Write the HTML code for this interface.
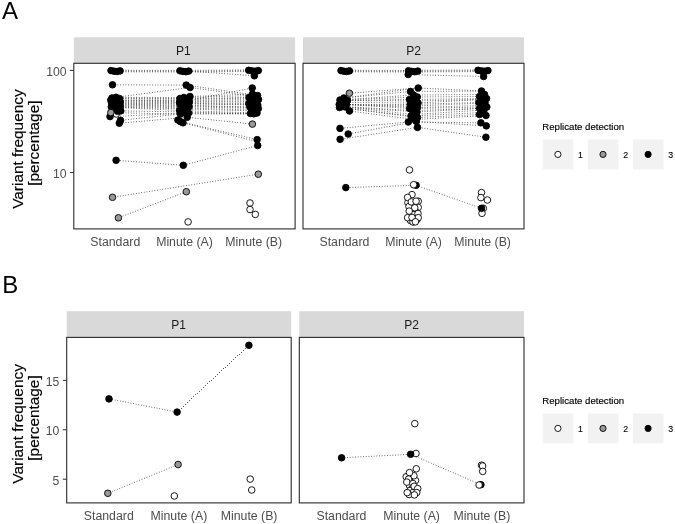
<!DOCTYPE html>
<html><head><meta charset="utf-8"><title>Figure</title>
<style>html,body{margin:0;padding:0;background:#fff}svg{display:block;will-change:transform}</style></head>
<body>
<svg width="675" height="524" viewBox="0 0 675 524" font-family='"Liberation Sans", sans-serif'>
<style>.dl{stroke:#2a2a2a;stroke-width:.8;stroke-dasharray:.85 1.82;fill:none}</style>
<rect width="675" height="524" fill="#fff"/>
<text x="2.0" y="18.9" font-size="24.0" text-anchor="start" fill="#000" >A</text>
<text x="2.2" y="293.4" font-size="24.0" text-anchor="start" fill="#000" >B</text>
<rect x="73.8" y="37.3" width="221.3" height="26.0" fill="#d9d9d9"/>
<text x="183.4" y="55.2" font-size="12" text-anchor="middle" fill="#1a1a1a" >P1</text>
<text x="115.3" y="246.3" font-size="12.3" text-anchor="middle" fill="#4d4d4d" >Standard</text>
<text x="184.5" y="246.3" font-size="12.3" text-anchor="middle" fill="#4d4d4d" >Minute (A)</text>
<text x="253.7" y="246.3" font-size="12.3" text-anchor="middle" fill="#4d4d4d" >Minute (B)</text>
<rect x="303.0" y="37.3" width="221.0" height="26.0" fill="#d9d9d9"/>
<text x="413.6" y="55.2" font-size="12" text-anchor="middle" fill="#1a1a1a" >P2</text>
<text x="344.4" y="246.3" font-size="12.3" text-anchor="middle" fill="#4d4d4d" >Standard</text>
<text x="413.5" y="246.3" font-size="12.3" text-anchor="middle" fill="#4d4d4d" >Minute (A)</text>
<text x="482.6" y="246.3" font-size="12.3" text-anchor="middle" fill="#4d4d4d" >Minute (B)</text>
<path d="M69.9 70.4H73.8" stroke="#333" stroke-width="1.05" fill="none"/>
<text x="66.5" y="75.9" font-size="12.2" text-anchor="end" fill="#4d4d4d" >100</text>
<path d="M69.9 172.5H73.8" stroke="#333" stroke-width="1.05" fill="none"/>
<text x="66.5" y="177.9" font-size="12.2" text-anchor="end" fill="#4d4d4d" >10</text>
<rect x="66.7" y="311.2" width="224.5" height="26.2" fill="#d9d9d9"/>
<text x="178.6" y="329.2" font-size="12" text-anchor="middle" fill="#1a1a1a" >P1</text>
<text x="108.8" y="520.0" font-size="12.3" text-anchor="middle" fill="#4d4d4d" >Standard</text>
<text x="178.9" y="520.0" font-size="12.3" text-anchor="middle" fill="#4d4d4d" >Minute (A)</text>
<text x="249.1" y="520.0" font-size="12.3" text-anchor="middle" fill="#4d4d4d" >Minute (B)</text>
<rect x="299.3" y="311.2" width="224.7" height="26.2" fill="#d9d9d9"/>
<text x="411.6" y="329.2" font-size="12" text-anchor="middle" fill="#1a1a1a" >P2</text>
<text x="341.4" y="520.0" font-size="12.3" text-anchor="middle" fill="#4d4d4d" >Standard</text>
<text x="411.6" y="520.0" font-size="12.3" text-anchor="middle" fill="#4d4d4d" >Minute (A)</text>
<text x="481.9" y="520.0" font-size="12.3" text-anchor="middle" fill="#4d4d4d" >Minute (B)</text>
<path d="M62.8 380.4H66.7" stroke="#333" stroke-width="1.05" fill="none"/>
<text x="59.4" y="385.8" font-size="12.2" text-anchor="end" fill="#4d4d4d" >15</text>
<path d="M62.8 429.7H66.7" stroke="#333" stroke-width="1.05" fill="none"/>
<text x="59.4" y="435.1" font-size="12.2" text-anchor="end" fill="#4d4d4d" >10</text>
<path d="M62.8 479.2H66.7" stroke="#333" stroke-width="1.05" fill="none"/>
<text x="59.4" y="484.6" font-size="12.2" text-anchor="end" fill="#4d4d4d" >5</text>
<text transform="translate(22.5 149.1) rotate(-90)" font-size="15.4" text-anchor="middle" fill="#000" stroke="#000" stroke-width=".16">Variant frequency</text>
<text transform="translate(39.1 143.2) rotate(-90)" font-size="15.35" text-anchor="middle" fill="#000" stroke="#000" stroke-width=".16">[percentage]</text>
<text transform="translate(22.5 423.9) rotate(-90)" font-size="15.4" text-anchor="middle" fill="#000" stroke="#000" stroke-width=".16">Variant frequency</text>
<text transform="translate(39.1 418.0) rotate(-90)" font-size="15.35" text-anchor="middle" fill="#000" stroke="#000" stroke-width=".16">[percentage]</text>
<text x="542.3" y="129.9" font-size="9.65" text-anchor="start" fill="#000" stroke="#000" stroke-width=".15">Replicate detection</text>
<rect x="542.7" y="139.5" width="30.6" height="29.9" fill="#f2f2f2"/>
<circle cx="557.9" cy="154.4" r="3.1" fill="#ffffff" stroke="#000" stroke-width="0.9"/>
<text x="578.1" y="158.2" font-size="8.8" text-anchor="start" fill="#000" stroke="#000" stroke-width=".12">1</text>
<rect x="587.8" y="139.5" width="30.6" height="29.9" fill="#f2f2f2"/>
<circle cx="603.0" cy="154.4" r="3.1" fill="#999999" stroke="#000" stroke-width="0.9"/>
<text x="623.2" y="158.2" font-size="8.8" text-anchor="start" fill="#000" stroke="#000" stroke-width=".12">2</text>
<rect x="632.9" y="139.5" width="30.6" height="29.9" fill="#f2f2f2"/>
<circle cx="648.1" cy="154.4" r="3.1" fill="#000000" stroke="#000" stroke-width="0.9"/>
<text x="668.3" y="158.2" font-size="8.8" text-anchor="start" fill="#000" stroke="#000" stroke-width=".12">3</text>
<text x="542.3" y="403.9" font-size="9.65" text-anchor="start" fill="#000" stroke="#000" stroke-width=".15">Replicate detection</text>
<rect x="542.7" y="413.5" width="30.6" height="29.9" fill="#f2f2f2"/>
<circle cx="557.9" cy="428.4" r="3.1" fill="#ffffff" stroke="#000" stroke-width="0.9"/>
<text x="578.1" y="432.2" font-size="8.8" text-anchor="start" fill="#000" stroke="#000" stroke-width=".12">1</text>
<rect x="587.8" y="413.5" width="30.6" height="29.9" fill="#f2f2f2"/>
<circle cx="603.0" cy="428.4" r="3.1" fill="#999999" stroke="#000" stroke-width="0.9"/>
<text x="623.2" y="432.2" font-size="8.8" text-anchor="start" fill="#000" stroke="#000" stroke-width=".12">2</text>
<rect x="632.9" y="413.5" width="30.6" height="29.9" fill="#f2f2f2"/>
<circle cx="648.1" cy="428.4" r="3.1" fill="#000000" stroke="#000" stroke-width="0.9"/>
<text x="668.3" y="432.2" font-size="8.8" text-anchor="start" fill="#000" stroke="#000" stroke-width=".12">3</text>
<path class="dl" stroke-dashoffset="1.53" d="M111.0 70.2L180.0 70.4"/>
<path class="dl" stroke-dashoffset="1.11" d="M180.0 70.4L248.7 69.9"/>
<path class="dl" stroke-dashoffset="1.86" d="M114.0 71.0L182.9 71.2"/>
<path class="dl" stroke-dashoffset="1.34" d="M182.9 71.2L251.9 70.7"/>
<path class="dl" stroke-dashoffset="2.19" d="M117.0 71.8L185.8 72.0"/>
<path class="dl" stroke-dashoffset="1.57" d="M185.8 72.0L255.1 71.5"/>
<path class="dl" stroke-dashoffset="1.80" d="M188.7 71.1L254.4 75.8"/>
<path class="dl" stroke-dashoffset="0.36" d="M112.5 84.8L186.2 85.1"/>
<path class="dl" stroke-dashoffset="1.96" d="M186.2 85.1L248.0 94.0"/>
<path class="dl" stroke-dashoffset="1.18" d="M116.0 97.3L190.1 87.5"/>
<path class="dl" stroke-dashoffset="0.51" d="M190.1 87.5L252.5 96.0"/>
<path class="dl" stroke-dashoffset="1.75" d="M186.0 101.0L252.2 88.0"/>
<path class="dl" stroke-dashoffset="1.19" d="M116.0 97.3L184.0 97.5"/>
<path class="dl" stroke-dashoffset="2.53" d="M112.0 98.0L180.0 98.5"/>
<path class="dl" stroke-dashoffset="2.02" d="M119.5 98.6L187.5 99.3"/>
<path class="dl" stroke-dashoffset="1.33" d="M110.8 100.0L182.0 100.3"/>
<path class="dl" stroke-dashoffset="2.36" d="M114.5 100.2L186.0 101.0"/>
<path class="dl" stroke-dashoffset="0.52" d="M118.0 101.0L189.3 101.8"/>
<path class="dl" stroke-dashoffset="0.05" d="M120.2 102.0L179.5 102.5"/>
<path class="dl" stroke-dashoffset="2.03" d="M111.5 102.8L183.5 103.3"/>
<path class="dl" stroke-dashoffset="0.69" d="M115.5 103.5L188.0 104.0"/>
<path class="dl" stroke-dashoffset="2.02" d="M119.5 104.3L180.5 105.0"/>
<path class="dl" stroke-dashoffset="0.86" d="M113.0 105.0L185.0 105.8"/>
<path class="dl" stroke-dashoffset="2.19" d="M117.0 105.8L189.0 106.8"/>
<path class="dl" stroke-dashoffset="0.15" d="M120.3 106.6L181.5 107.8"/>
<path class="dl" stroke-dashoffset="1.83" d="M111.3 107.0L186.5 109.0"/>
<path class="dl" stroke-dashoffset="0.19" d="M115.0 107.3L179.6 110.5"/>
<path class="dl" stroke-dashoffset="0.65" d="M120.8 110.9L184.0 112.0"/>
<path class="dl" stroke-dashoffset="0.53" d="M110.0 116.6L188.6 113.0"/>
<path class="dl" stroke-dashoffset="0.34" d="M120.5 120.3L180.5 114.0"/>
<path class="dl" stroke-dashoffset="1.82" d="M119.3 123.2L187.2 117.3"/>
<path class="dl" stroke-dashoffset="1.33" d="M110.8 112.6L180.5 114.0"/>
<path class="dl" stroke-dashoffset="0.43" d="M190.0 96.5L252.5 94.0"/>
<path class="dl" stroke-dashoffset="2.44" d="M184.0 97.5L257.5 95.5"/>
<path class="dl" stroke-dashoffset="1.11" d="M180.0 98.5L249.0 97.5"/>
<path class="dl" stroke-dashoffset="0.60" d="M187.5 99.3L254.5 98.0"/>
<path class="dl" stroke-dashoffset="0.44" d="M182.0 100.3L258.5 99.5"/>
<path class="dl" stroke-dashoffset="1.77" d="M186.0 101.0L251.0 101.0"/>
<path class="dl" stroke-dashoffset="2.40" d="M189.3 101.8L255.5 102.0"/>
<path class="dl" stroke-dashoffset="0.61" d="M179.5 102.5L248.8 103.5"/>
<path class="dl" stroke-dashoffset="1.94" d="M183.5 103.3L253.0 104.5"/>
<path class="dl" stroke-dashoffset="1.10" d="M188.0 104.0L257.8 105.0"/>
<path class="dl" stroke-dashoffset="1.61" d="M180.5 105.0L250.0 107.0"/>
<path class="dl" stroke-dashoffset="0.77" d="M185.0 105.8L255.0 107.5"/>
<path class="dl" stroke-dashoffset="2.10" d="M189.0 106.8L258.3 108.5"/>
<path class="dl" stroke-dashoffset="2.61" d="M181.5 107.8L251.5 110.0"/>
<path class="dl" stroke-dashoffset="2.27" d="M186.5 109.0L256.0 111.0"/>
<path class="dl" stroke-dashoffset="0.71" d="M179.6 110.5L257.0 113.0"/>
<path class="dl" stroke-dashoffset="2.44" d="M184.0 112.0L250.5 113.5"/>
<path class="dl" stroke-dashoffset="1.70" d="M188.6 113.0L254.0 113.8"/>
<path class="dl" stroke-dashoffset="1.61" d="M180.5 114.0L254.0 113.8"/>
<path class="dl" stroke-dashoffset="0.29" d="M187.2 117.3L252.4 124.1"/>
<path class="dl" stroke-dashoffset="1.38" d="M180.3 121.6L257.1 139.6"/>
<path class="dl" stroke-dashoffset="1.40" d="M183.0 122.8L256.0 141.5"/>
<path class="dl" stroke-dashoffset="1.29" d="M116.1 160.3L183.3 165.3"/>
<path class="dl" stroke-dashoffset="1.71" d="M183.3 165.3L257.7 145.5"/>
<path class="dl" stroke-dashoffset="0.33" d="M112.5 197.3L258.3 174.2"/>
<path class="dl" stroke-dashoffset="0.80" d="M118.4 217.8L186.3 191.7"/>
<circle cx="111.0" cy="70.6" r="3.3" fill="#000000" stroke="#000" stroke-width="0.9"/>
<circle cx="114.0" cy="71.2" r="3.3" fill="#000000" stroke="#000" stroke-width="0.9"/>
<circle cx="117.0" cy="71.5" r="3.3" fill="#000000" stroke="#000" stroke-width="0.9"/>
<circle cx="120.0" cy="70.9" r="3.3" fill="#000000" stroke="#000" stroke-width="0.9"/>
<circle cx="180.0" cy="70.8" r="3.3" fill="#000000" stroke="#000" stroke-width="0.9"/>
<circle cx="182.9" cy="71.4" r="3.3" fill="#000000" stroke="#000" stroke-width="0.9"/>
<circle cx="185.8" cy="71.7" r="3.3" fill="#000000" stroke="#000" stroke-width="0.9"/>
<circle cx="188.7" cy="71.1" r="3.3" fill="#000000" stroke="#000" stroke-width="0.9"/>
<circle cx="248.7" cy="70.3" r="3.3" fill="#000000" stroke="#000" stroke-width="0.9"/>
<circle cx="251.9" cy="70.9" r="3.3" fill="#000000" stroke="#000" stroke-width="0.9"/>
<circle cx="255.1" cy="71.2" r="3.3" fill="#000000" stroke="#000" stroke-width="0.9"/>
<circle cx="258.3" cy="70.6" r="3.3" fill="#000000" stroke="#000" stroke-width="0.9"/>
<circle cx="254.4" cy="75.8" r="3.3" fill="#000000" stroke="#000" stroke-width="0.9"/>
<circle cx="112.5" cy="84.8" r="3.3" fill="#000000" stroke="#000" stroke-width="0.9"/>
<circle cx="186.2" cy="85.1" r="3.3" fill="#000000" stroke="#000" stroke-width="0.9"/>
<circle cx="190.1" cy="87.5" r="3.3" fill="#000000" stroke="#000" stroke-width="0.9"/>
<circle cx="252.2" cy="88.0" r="3.3" fill="#000000" stroke="#000" stroke-width="0.9"/>
<circle cx="116.3" cy="114.0" r="3.3" fill="#ffffff" stroke="#000" stroke-width="0.9"/>
<circle cx="112.0" cy="98.0" r="3.3" fill="#000000" stroke="#000" stroke-width="0.9"/>
<circle cx="116.0" cy="97.3" r="3.3" fill="#000000" stroke="#000" stroke-width="0.9"/>
<circle cx="119.5" cy="98.6" r="3.3" fill="#000000" stroke="#000" stroke-width="0.9"/>
<circle cx="110.8" cy="100.0" r="3.3" fill="#000000" stroke="#000" stroke-width="0.9"/>
<circle cx="114.5" cy="100.2" r="3.3" fill="#000000" stroke="#000" stroke-width="0.9"/>
<circle cx="118.0" cy="101.0" r="3.3" fill="#000000" stroke="#000" stroke-width="0.9"/>
<circle cx="120.2" cy="102.0" r="3.3" fill="#000000" stroke="#000" stroke-width="0.9"/>
<circle cx="111.5" cy="102.8" r="3.3" fill="#000000" stroke="#000" stroke-width="0.9"/>
<circle cx="115.5" cy="103.5" r="3.3" fill="#000000" stroke="#000" stroke-width="0.9"/>
<circle cx="119.5" cy="104.3" r="3.3" fill="#000000" stroke="#000" stroke-width="0.9"/>
<circle cx="113.0" cy="105.0" r="3.3" fill="#000000" stroke="#000" stroke-width="0.9"/>
<circle cx="117.0" cy="105.8" r="3.3" fill="#000000" stroke="#000" stroke-width="0.9"/>
<circle cx="120.3" cy="106.6" r="3.3" fill="#000000" stroke="#000" stroke-width="0.9"/>
<circle cx="111.3" cy="107.0" r="3.3" fill="#000000" stroke="#000" stroke-width="0.9"/>
<circle cx="115.0" cy="107.3" r="3.3" fill="#000000" stroke="#000" stroke-width="0.9"/>
<circle cx="120.8" cy="110.9" r="3.3" fill="#000000" stroke="#000" stroke-width="0.9"/>
<circle cx="110.0" cy="116.6" r="3.3" fill="#000000" stroke="#000" stroke-width="0.9"/>
<circle cx="120.5" cy="120.3" r="3.3" fill="#000000" stroke="#000" stroke-width="0.9"/>
<circle cx="119.3" cy="123.2" r="3.3" fill="#000000" stroke="#000" stroke-width="0.9"/>
<circle cx="190.0" cy="96.5" r="3.3" fill="#000000" stroke="#000" stroke-width="0.9"/>
<circle cx="184.0" cy="97.5" r="3.3" fill="#000000" stroke="#000" stroke-width="0.9"/>
<circle cx="180.0" cy="98.5" r="3.3" fill="#000000" stroke="#000" stroke-width="0.9"/>
<circle cx="187.5" cy="99.3" r="3.3" fill="#000000" stroke="#000" stroke-width="0.9"/>
<circle cx="182.0" cy="100.3" r="3.3" fill="#000000" stroke="#000" stroke-width="0.9"/>
<circle cx="186.0" cy="101.0" r="3.3" fill="#000000" stroke="#000" stroke-width="0.9"/>
<circle cx="189.3" cy="101.8" r="3.3" fill="#000000" stroke="#000" stroke-width="0.9"/>
<circle cx="179.5" cy="102.5" r="3.3" fill="#000000" stroke="#000" stroke-width="0.9"/>
<circle cx="183.5" cy="103.3" r="3.3" fill="#000000" stroke="#000" stroke-width="0.9"/>
<circle cx="188.0" cy="104.0" r="3.3" fill="#000000" stroke="#000" stroke-width="0.9"/>
<circle cx="180.5" cy="105.0" r="3.3" fill="#000000" stroke="#000" stroke-width="0.9"/>
<circle cx="185.0" cy="105.8" r="3.3" fill="#000000" stroke="#000" stroke-width="0.9"/>
<circle cx="189.0" cy="106.8" r="3.3" fill="#000000" stroke="#000" stroke-width="0.9"/>
<circle cx="181.5" cy="107.8" r="3.3" fill="#000000" stroke="#000" stroke-width="0.9"/>
<circle cx="186.5" cy="109.0" r="3.3" fill="#000000" stroke="#000" stroke-width="0.9"/>
<circle cx="179.6" cy="110.5" r="3.3" fill="#000000" stroke="#000" stroke-width="0.9"/>
<circle cx="184.0" cy="112.0" r="3.3" fill="#000000" stroke="#000" stroke-width="0.9"/>
<circle cx="188.6" cy="113.0" r="3.3" fill="#000000" stroke="#000" stroke-width="0.9"/>
<circle cx="180.5" cy="114.0" r="3.3" fill="#000000" stroke="#000" stroke-width="0.9"/>
<circle cx="187.2" cy="117.3" r="3.3" fill="#000000" stroke="#000" stroke-width="0.9"/>
<circle cx="177.9" cy="120.0" r="3.3" fill="#000000" stroke="#000" stroke-width="0.9"/>
<circle cx="180.3" cy="121.6" r="3.3" fill="#000000" stroke="#000" stroke-width="0.9"/>
<circle cx="183.0" cy="122.8" r="3.3" fill="#000000" stroke="#000" stroke-width="0.9"/>
<circle cx="252.5" cy="94.0" r="3.3" fill="#000000" stroke="#000" stroke-width="0.9"/>
<circle cx="257.5" cy="95.5" r="3.3" fill="#000000" stroke="#000" stroke-width="0.9"/>
<circle cx="249.0" cy="97.5" r="3.3" fill="#000000" stroke="#000" stroke-width="0.9"/>
<circle cx="254.5" cy="98.0" r="3.3" fill="#000000" stroke="#000" stroke-width="0.9"/>
<circle cx="258.5" cy="99.5" r="3.3" fill="#000000" stroke="#000" stroke-width="0.9"/>
<circle cx="251.0" cy="101.0" r="3.3" fill="#000000" stroke="#000" stroke-width="0.9"/>
<circle cx="255.5" cy="102.0" r="3.3" fill="#000000" stroke="#000" stroke-width="0.9"/>
<circle cx="248.8" cy="103.5" r="3.3" fill="#000000" stroke="#000" stroke-width="0.9"/>
<circle cx="253.0" cy="104.5" r="3.3" fill="#000000" stroke="#000" stroke-width="0.9"/>
<circle cx="257.8" cy="105.0" r="3.3" fill="#000000" stroke="#000" stroke-width="0.9"/>
<circle cx="250.0" cy="107.0" r="3.3" fill="#000000" stroke="#000" stroke-width="0.9"/>
<circle cx="255.0" cy="107.5" r="3.3" fill="#000000" stroke="#000" stroke-width="0.9"/>
<circle cx="258.3" cy="108.5" r="3.3" fill="#000000" stroke="#000" stroke-width="0.9"/>
<circle cx="251.5" cy="110.0" r="3.3" fill="#000000" stroke="#000" stroke-width="0.9"/>
<circle cx="256.0" cy="111.0" r="3.3" fill="#000000" stroke="#000" stroke-width="0.9"/>
<circle cx="250.5" cy="113.5" r="3.3" fill="#000000" stroke="#000" stroke-width="0.9"/>
<circle cx="254.0" cy="113.8" r="3.3" fill="#000000" stroke="#000" stroke-width="0.9"/>
<circle cx="257.0" cy="113.0" r="3.3" fill="#000000" stroke="#000" stroke-width="0.9"/>
<circle cx="117.6" cy="111.3" r="3.3" fill="#000000" stroke="#000" stroke-width="0.9"/>
<circle cx="110.8" cy="112.6" r="3.3" fill="#999999" stroke="#000" stroke-width="0.9"/>
<circle cx="252.4" cy="124.1" r="3.3" fill="#999999" stroke="#000" stroke-width="0.9"/>
<circle cx="257.1" cy="139.6" r="3.3" fill="#000000" stroke="#000" stroke-width="0.9"/>
<circle cx="257.7" cy="145.5" r="3.3" fill="#000000" stroke="#000" stroke-width="0.9"/>
<circle cx="116.1" cy="160.3" r="3.3" fill="#000000" stroke="#000" stroke-width="0.9"/>
<circle cx="183.3" cy="165.3" r="3.3" fill="#000000" stroke="#000" stroke-width="0.9"/>
<circle cx="258.3" cy="174.2" r="3.3" fill="#999999" stroke="#000" stroke-width="0.9"/>
<circle cx="112.5" cy="197.3" r="3.3" fill="#999999" stroke="#000" stroke-width="0.9"/>
<circle cx="118.4" cy="217.8" r="3.3" fill="#999999" stroke="#000" stroke-width="0.9"/>
<circle cx="186.3" cy="191.7" r="3.3" fill="#999999" stroke="#000" stroke-width="0.9"/>
<circle cx="188.1" cy="221.9" r="3.3" fill="#ffffff" stroke="#000" stroke-width="0.9"/>
<circle cx="250.0" cy="203.0" r="3.3" fill="#ffffff" stroke="#000" stroke-width="0.9"/>
<circle cx="250.0" cy="209.5" r="3.3" fill="#ffffff" stroke="#000" stroke-width="0.9"/>
<circle cx="255.3" cy="214.4" r="3.3" fill="#ffffff" stroke="#000" stroke-width="0.9"/>
<path class="dl" stroke-dashoffset="1.91" d="M341.0 70.2L408.5 70.4"/>
<path class="dl" stroke-dashoffset="2.66" d="M408.5 70.4L478.0 69.9"/>
<path class="dl" stroke-dashoffset="2.04" d="M343.8 71.0L411.6 71.2"/>
<path class="dl" stroke-dashoffset="0.42" d="M411.6 71.2L481.3 70.7"/>
<path class="dl" stroke-dashoffset="2.17" d="M346.6 71.8L414.7 72.0"/>
<path class="dl" stroke-dashoffset="0.85" d="M414.7 72.0L484.6 71.5"/>
<path class="dl" stroke-dashoffset="2.36" d="M408.2 74.5L483.6 76.5"/>
<path class="dl" stroke-dashoffset="2.24" d="M344.0 98.0L418.2 88.0"/>
<path class="dl" stroke-dashoffset="1.68" d="M418.2 88.0L481.5 91.0"/>
<path class="dl" stroke-dashoffset="2.24" d="M344.0 98.0L410.5 91.5"/>
<path class="dl" stroke-dashoffset="1.99" d="M410.5 91.5L481.5 91.0"/>
<path class="dl" stroke-dashoffset="0.91" d="M340.0 100.0L413.5 95.0"/>
<path class="dl" stroke-dashoffset="2.32" d="M413.5 95.0L484.5 94.5"/>
<path class="dl" stroke-dashoffset="0.91" d="M340.0 100.0L417.3 97.0"/>
<path class="dl" stroke-dashoffset="0.78" d="M417.3 97.0L479.5 96.5"/>
<path class="dl" stroke-dashoffset="0.40" d="M347.5 100.5L409.5 99.5"/>
<path class="dl" stroke-dashoffset="0.99" d="M409.5 99.5L486.5 98.5"/>
<path class="dl" stroke-dashoffset="0.40" d="M347.5 100.5L415.0 101.0"/>
<path class="dl" stroke-dashoffset="1.15" d="M415.0 101.0L482.0 99.5"/>
<path class="dl" stroke-dashoffset="1.74" d="M343.5 102.5L418.0 103.0"/>
<path class="dl" stroke-dashoffset="1.48" d="M418.0 103.0L482.0 99.5"/>
<path class="dl" stroke-dashoffset="0.11" d="M339.2 104.5L410.3 104.5"/>
<path class="dl" stroke-dashoffset="1.79" d="M410.3 104.5L478.8 102.5"/>
<path class="dl" stroke-dashoffset="0.11" d="M339.2 104.5L414.0 106.0"/>
<path class="dl" stroke-dashoffset="0.15" d="M414.0 106.0L485.0 103.0"/>
<path class="dl" stroke-dashoffset="2.07" d="M346.5 104.5L417.5 107.5"/>
<path class="dl" stroke-dashoffset="0.98" d="M417.5 107.5L481.5 105.5"/>
<path class="dl" stroke-dashoffset="2.07" d="M346.5 104.5L409.6 108.5"/>
<path class="dl" stroke-dashoffset="1.09" d="M409.6 108.5L486.8 107.0"/>
<path class="dl" stroke-dashoffset="0.74" d="M342.5 106.5L412.5 110.5"/>
<path class="dl" stroke-dashoffset="1.32" d="M412.5 110.5L479.5 108.5"/>
<path class="dl" stroke-dashoffset="1.07" d="M345.5 107.0L417.0 112.0"/>
<path class="dl" stroke-dashoffset="0.48" d="M417.0 112.0L479.5 108.5"/>
<path class="dl" stroke-dashoffset="1.06" d="M345.5 107.0L413.5 114.5"/>
<path class="dl" stroke-dashoffset="2.32" d="M413.5 114.5L484.0 110.0"/>
<path class="dl" stroke-dashoffset="0.39" d="M339.5 107.5L411.0 116.0"/>
<path class="dl" stroke-dashoffset="2.49" d="M411.0 116.0L482.5 112.5"/>
<path class="dl" stroke-dashoffset="0.39" d="M339.5 107.5L417.5 117.5"/>
<path class="dl" stroke-dashoffset="0.98" d="M417.5 117.5L479.5 114.5"/>
<path class="dl" stroke-dashoffset="2.40" d="M349.5 111.0L414.5 119.5"/>
<path class="dl" stroke-dashoffset="0.65" d="M414.5 119.5L486.0 115.5"/>
<path class="dl" stroke-dashoffset="2.30" d="M349.4 93.2L418.2 88.0"/>
<path class="dl" stroke-dashoffset="0.90" d="M340.0 128.4L408.3 122.0"/>
<path class="dl" stroke-dashoffset="2.46" d="M408.3 122.0L480.9 122.8"/>
<path class="dl" stroke-dashoffset="1.07" d="M348.2 134.0L416.3 121.5"/>
<path class="dl" stroke-dashoffset="2.45" d="M416.3 121.5L486.3 125.9"/>
<path class="dl" stroke-dashoffset="0.99" d="M340.1 139.3L417.5 127.4"/>
<path class="dl" stroke-dashoffset="0.96" d="M417.5 127.4L485.9 137.2"/>
<path class="dl" stroke-dashoffset="1.37" d="M345.8 187.6L416.1 185.3"/>
<path class="dl" stroke-dashoffset="2.22" d="M416.1 185.3L481.5 208.3"/>
<circle cx="341.0" cy="70.6" r="3.3" fill="#000000" stroke="#000" stroke-width="0.9"/>
<circle cx="343.8" cy="71.2" r="3.3" fill="#000000" stroke="#000" stroke-width="0.9"/>
<circle cx="346.6" cy="71.5" r="3.3" fill="#000000" stroke="#000" stroke-width="0.9"/>
<circle cx="349.4" cy="70.9" r="3.3" fill="#000000" stroke="#000" stroke-width="0.9"/>
<circle cx="408.5" cy="70.8" r="3.3" fill="#000000" stroke="#000" stroke-width="0.9"/>
<circle cx="411.6" cy="71.4" r="3.3" fill="#000000" stroke="#000" stroke-width="0.9"/>
<circle cx="414.7" cy="71.7" r="3.3" fill="#000000" stroke="#000" stroke-width="0.9"/>
<circle cx="417.8" cy="71.1" r="3.3" fill="#000000" stroke="#000" stroke-width="0.9"/>
<circle cx="408.2" cy="74.5" r="3.3" fill="#000000" stroke="#000" stroke-width="0.9"/>
<circle cx="478.0" cy="70.3" r="3.3" fill="#000000" stroke="#000" stroke-width="0.9"/>
<circle cx="481.3" cy="70.9" r="3.3" fill="#000000" stroke="#000" stroke-width="0.9"/>
<circle cx="484.6" cy="71.2" r="3.3" fill="#000000" stroke="#000" stroke-width="0.9"/>
<circle cx="487.9" cy="70.6" r="3.3" fill="#000000" stroke="#000" stroke-width="0.9"/>
<circle cx="483.6" cy="76.5" r="3.3" fill="#000000" stroke="#000" stroke-width="0.9"/>
<circle cx="344.0" cy="98.0" r="3.3" fill="#000000" stroke="#000" stroke-width="0.9"/>
<circle cx="340.0" cy="100.0" r="3.3" fill="#000000" stroke="#000" stroke-width="0.9"/>
<circle cx="347.5" cy="100.5" r="3.3" fill="#000000" stroke="#000" stroke-width="0.9"/>
<circle cx="343.5" cy="102.5" r="3.3" fill="#000000" stroke="#000" stroke-width="0.9"/>
<circle cx="339.2" cy="104.5" r="3.3" fill="#000000" stroke="#000" stroke-width="0.9"/>
<circle cx="346.5" cy="104.5" r="3.3" fill="#000000" stroke="#000" stroke-width="0.9"/>
<circle cx="342.5" cy="106.5" r="3.3" fill="#000000" stroke="#000" stroke-width="0.9"/>
<circle cx="339.5" cy="107.5" r="3.3" fill="#000000" stroke="#000" stroke-width="0.9"/>
<circle cx="345.5" cy="107.0" r="3.3" fill="#000000" stroke="#000" stroke-width="0.9"/>
<circle cx="349.5" cy="111.0" r="3.3" fill="#000000" stroke="#000" stroke-width="0.9"/>
<circle cx="340.0" cy="128.4" r="3.3" fill="#000000" stroke="#000" stroke-width="0.9"/>
<circle cx="348.2" cy="134.0" r="3.3" fill="#000000" stroke="#000" stroke-width="0.9"/>
<circle cx="340.1" cy="139.3" r="3.3" fill="#000000" stroke="#000" stroke-width="0.9"/>
<circle cx="418.2" cy="88.0" r="3.3" fill="#000000" stroke="#000" stroke-width="0.9"/>
<circle cx="410.5" cy="91.5" r="3.3" fill="#000000" stroke="#000" stroke-width="0.9"/>
<circle cx="413.5" cy="95.0" r="3.3" fill="#000000" stroke="#000" stroke-width="0.9"/>
<circle cx="417.3" cy="97.0" r="3.3" fill="#000000" stroke="#000" stroke-width="0.9"/>
<circle cx="409.5" cy="99.5" r="3.3" fill="#000000" stroke="#000" stroke-width="0.9"/>
<circle cx="415.0" cy="101.0" r="3.3" fill="#000000" stroke="#000" stroke-width="0.9"/>
<circle cx="418.0" cy="103.0" r="3.3" fill="#000000" stroke="#000" stroke-width="0.9"/>
<circle cx="410.3" cy="104.5" r="3.3" fill="#000000" stroke="#000" stroke-width="0.9"/>
<circle cx="414.0" cy="106.0" r="3.3" fill="#000000" stroke="#000" stroke-width="0.9"/>
<circle cx="417.5" cy="107.5" r="3.3" fill="#000000" stroke="#000" stroke-width="0.9"/>
<circle cx="409.6" cy="108.5" r="3.3" fill="#000000" stroke="#000" stroke-width="0.9"/>
<circle cx="412.5" cy="110.5" r="3.3" fill="#000000" stroke="#000" stroke-width="0.9"/>
<circle cx="417.0" cy="112.0" r="3.3" fill="#000000" stroke="#000" stroke-width="0.9"/>
<circle cx="413.5" cy="114.5" r="3.3" fill="#000000" stroke="#000" stroke-width="0.9"/>
<circle cx="411.0" cy="116.0" r="3.3" fill="#000000" stroke="#000" stroke-width="0.9"/>
<circle cx="417.5" cy="117.5" r="3.3" fill="#000000" stroke="#000" stroke-width="0.9"/>
<circle cx="414.5" cy="119.5" r="3.3" fill="#000000" stroke="#000" stroke-width="0.9"/>
<circle cx="408.3" cy="122.0" r="3.3" fill="#000000" stroke="#000" stroke-width="0.9"/>
<circle cx="416.3" cy="121.5" r="3.3" fill="#000000" stroke="#000" stroke-width="0.9"/>
<circle cx="417.5" cy="127.4" r="3.3" fill="#000000" stroke="#000" stroke-width="0.9"/>
<circle cx="481.5" cy="91.0" r="3.3" fill="#000000" stroke="#000" stroke-width="0.9"/>
<circle cx="484.5" cy="94.5" r="3.3" fill="#000000" stroke="#000" stroke-width="0.9"/>
<circle cx="479.5" cy="96.5" r="3.3" fill="#000000" stroke="#000" stroke-width="0.9"/>
<circle cx="486.5" cy="98.5" r="3.3" fill="#000000" stroke="#000" stroke-width="0.9"/>
<circle cx="482.0" cy="99.5" r="3.3" fill="#000000" stroke="#000" stroke-width="0.9"/>
<circle cx="478.8" cy="102.5" r="3.3" fill="#000000" stroke="#000" stroke-width="0.9"/>
<circle cx="485.0" cy="103.0" r="3.3" fill="#000000" stroke="#000" stroke-width="0.9"/>
<circle cx="481.5" cy="105.5" r="3.3" fill="#000000" stroke="#000" stroke-width="0.9"/>
<circle cx="486.8" cy="107.0" r="3.3" fill="#000000" stroke="#000" stroke-width="0.9"/>
<circle cx="479.5" cy="108.5" r="3.3" fill="#000000" stroke="#000" stroke-width="0.9"/>
<circle cx="484.0" cy="110.0" r="3.3" fill="#000000" stroke="#000" stroke-width="0.9"/>
<circle cx="479.5" cy="114.5" r="3.3" fill="#000000" stroke="#000" stroke-width="0.9"/>
<circle cx="486.0" cy="115.5" r="3.3" fill="#000000" stroke="#000" stroke-width="0.9"/>
<circle cx="482.5" cy="112.5" r="3.3" fill="#000000" stroke="#000" stroke-width="0.9"/>
<circle cx="480.9" cy="122.8" r="3.3" fill="#000000" stroke="#000" stroke-width="0.9"/>
<circle cx="486.3" cy="125.9" r="3.3" fill="#000000" stroke="#000" stroke-width="0.9"/>
<circle cx="485.9" cy="137.2" r="3.3" fill="#000000" stroke="#000" stroke-width="0.9"/>
<circle cx="349.4" cy="93.2" r="3.3" fill="#999999" stroke="#000" stroke-width="0.9"/>
<circle cx="345.8" cy="187.6" r="3.3" fill="#000000" stroke="#000" stroke-width="0.9"/>
<circle cx="409.5" cy="169.9" r="3.3" fill="#ffffff" stroke="#000" stroke-width="0.9"/>
<circle cx="416.1" cy="185.3" r="3.3" fill="#000000" stroke="#000" stroke-width="0.9"/>
<circle cx="413.6" cy="184.7" r="3.3" fill="#ffffff" stroke="#000" stroke-width="0.9"/>
<circle cx="418.2" cy="201.2" r="3.3" fill="#ffffff" stroke="#000" stroke-width="0.9"/>
<circle cx="407.9" cy="202.6" r="3.3" fill="#ffffff" stroke="#000" stroke-width="0.9"/>
<circle cx="418.2" cy="207.4" r="3.3" fill="#ffffff" stroke="#000" stroke-width="0.9"/>
<circle cx="416.1" cy="212.2" r="3.3" fill="#ffffff" stroke="#000" stroke-width="0.9"/>
<circle cx="409.0" cy="206.5" r="3.3" fill="#ffffff" stroke="#000" stroke-width="0.9"/>
<circle cx="413.0" cy="214.5" r="3.3" fill="#ffffff" stroke="#000" stroke-width="0.9"/>
<circle cx="418.0" cy="213.5" r="3.3" fill="#ffffff" stroke="#000" stroke-width="0.9"/>
<circle cx="410.5" cy="220.5" r="3.3" fill="#ffffff" stroke="#000" stroke-width="0.9"/>
<circle cx="417.0" cy="219.5" r="3.3" fill="#ffffff" stroke="#000" stroke-width="0.9"/>
<circle cx="413.0" cy="222.0" r="3.3" fill="#ffffff" stroke="#000" stroke-width="0.9"/>
<circle cx="412.0" cy="194.6" r="3.3" fill="#ffffff" stroke="#000" stroke-width="0.9"/>
<circle cx="407.6" cy="197.4" r="3.3" fill="#ffffff" stroke="#000" stroke-width="0.9"/>
<circle cx="411.3" cy="201.9" r="3.3" fill="#ffffff" stroke="#000" stroke-width="0.9"/>
<circle cx="416.1" cy="201.2" r="3.3" fill="#ffffff" stroke="#000" stroke-width="0.9"/>
<circle cx="414.7" cy="207.8" r="3.3" fill="#ffffff" stroke="#000" stroke-width="0.9"/>
<circle cx="409.2" cy="211.1" r="3.3" fill="#ffffff" stroke="#000" stroke-width="0.9"/>
<circle cx="407.6" cy="217.7" r="3.3" fill="#ffffff" stroke="#000" stroke-width="0.9"/>
<circle cx="418.2" cy="217.7" r="3.3" fill="#ffffff" stroke="#000" stroke-width="0.9"/>
<circle cx="412.0" cy="217.4" r="3.3" fill="#ffffff" stroke="#000" stroke-width="0.9"/>
<circle cx="415.4" cy="221.8" r="3.3" fill="#ffffff" stroke="#000" stroke-width="0.9"/>
<circle cx="483.3" cy="208.3" r="3.3" fill="#ffffff" stroke="#000" stroke-width="0.9"/>
<circle cx="481.5" cy="192.6" r="3.3" fill="#ffffff" stroke="#000" stroke-width="0.9"/>
<circle cx="480.9" cy="197.6" r="3.3" fill="#ffffff" stroke="#000" stroke-width="0.9"/>
<circle cx="487.4" cy="200.0" r="3.3" fill="#ffffff" stroke="#000" stroke-width="0.9"/>
<circle cx="482.0" cy="213.3" r="3.3" fill="#ffffff" stroke="#000" stroke-width="0.9"/>
<circle cx="481.5" cy="208.3" r="3.3" fill="#000000" stroke="#000" stroke-width="0.9"/>
<path class="dl" stroke-dashoffset="2.19" d="M109.0 398.9L177.1 412.1"/>
<path d="M181 408h1v1h-1zM183 406h1v1h-1zM185 404h1v1h-1zM187 402h1v1h-1zM189 400h1v1h-1zM191 398h1v1h-1zM193 396h1v1h-1zM195 394h1v1h-1zM197 393h1v1h-1zM199 391h1v1h-1zM201 389h1v1h-1zM203 387h1v1h-1zM205 385h1v1h-1zM207 383h1v1h-1zM209 381h1v1h-1zM211 380h1v1h-1zM213 378h1v1h-1zM215 376h1v1h-1zM217 374h1v1h-1zM219 372h1v1h-1zM221 370h1v1h-1zM223 368h1v1h-1zM225 367h1v1h-1zM227 365h1v1h-1zM229 363h1v1h-1zM231 361h1v1h-1zM233 359h1v1h-1zM235 357h1v1h-1zM237 355h1v1h-1zM239 354h1v1h-1zM241 352h1v1h-1zM243 350h1v1h-1zM245 348h1v1h-1z" fill="#5a5a5a"/>
<path class="dl" stroke-dashoffset="0.87" d="M107.8 493.3L178.1 464.5"/>
<circle cx="109.0" cy="398.9" r="3.3" fill="#000000" stroke="#000" stroke-width="0.9"/>
<circle cx="177.1" cy="412.1" r="3.3" fill="#000000" stroke="#000" stroke-width="0.9"/>
<circle cx="248.9" cy="345.3" r="3.3" fill="#000000" stroke="#000" stroke-width="0.9"/>
<circle cx="107.8" cy="493.3" r="3.3" fill="#999999" stroke="#000" stroke-width="0.9"/>
<circle cx="178.1" cy="464.5" r="3.3" fill="#999999" stroke="#000" stroke-width="0.9"/>
<circle cx="174.3" cy="496.0" r="3.3" fill="#ffffff" stroke="#000" stroke-width="0.9"/>
<circle cx="250.2" cy="479.1" r="3.3" fill="#ffffff" stroke="#000" stroke-width="0.9"/>
<circle cx="251.7" cy="490.0" r="3.3" fill="#ffffff" stroke="#000" stroke-width="0.9"/>
<path class="dl" stroke-dashoffset="2.51" d="M341.6 457.8L410.6 454.3"/>
<path class="dl" stroke-dashoffset="2.04" d="M410.6 454.3L480.9 484.7"/>
<circle cx="341.6" cy="457.8" r="3.3" fill="#000000" stroke="#000" stroke-width="0.9"/>
<circle cx="414.8" cy="423.6" r="3.3" fill="#ffffff" stroke="#000" stroke-width="0.9"/>
<circle cx="416.0" cy="453.5" r="3.3" fill="#ffffff" stroke="#000" stroke-width="0.9"/>
<circle cx="410.6" cy="454.3" r="3.3" fill="#000000" stroke="#000" stroke-width="0.9"/>
<circle cx="411.0" cy="478.0" r="3.3" fill="#ffffff" stroke="#000" stroke-width="0.9"/>
<circle cx="415.5" cy="480.5" r="3.3" fill="#ffffff" stroke="#000" stroke-width="0.9"/>
<circle cx="409.5" cy="485.5" r="3.3" fill="#ffffff" stroke="#000" stroke-width="0.9"/>
<circle cx="412.0" cy="488.5" r="3.3" fill="#ffffff" stroke="#000" stroke-width="0.9"/>
<circle cx="410.0" cy="490.5" r="3.3" fill="#ffffff" stroke="#000" stroke-width="0.9"/>
<circle cx="413.0" cy="492.5" r="3.3" fill="#ffffff" stroke="#000" stroke-width="0.9"/>
<circle cx="409.0" cy="494.5" r="3.3" fill="#ffffff" stroke="#000" stroke-width="0.9"/>
<circle cx="416.3" cy="468.8" r="3.3" fill="#ffffff" stroke="#000" stroke-width="0.9"/>
<circle cx="413.9" cy="475.8" r="3.3" fill="#ffffff" stroke="#000" stroke-width="0.9"/>
<circle cx="406.2" cy="476.8" r="3.3" fill="#ffffff" stroke="#000" stroke-width="0.9"/>
<circle cx="409.5" cy="472.6" r="3.3" fill="#ffffff" stroke="#000" stroke-width="0.9"/>
<circle cx="408.5" cy="479.1" r="3.3" fill="#ffffff" stroke="#000" stroke-width="0.9"/>
<circle cx="406.8" cy="482.1" r="3.3" fill="#ffffff" stroke="#000" stroke-width="0.9"/>
<circle cx="412.9" cy="483.5" r="3.3" fill="#ffffff" stroke="#000" stroke-width="0.9"/>
<circle cx="414.2" cy="486.3" r="3.3" fill="#ffffff" stroke="#000" stroke-width="0.9"/>
<circle cx="417.7" cy="488.6" r="3.3" fill="#ffffff" stroke="#000" stroke-width="0.9"/>
<circle cx="407.2" cy="492.6" r="3.3" fill="#ffffff" stroke="#000" stroke-width="0.9"/>
<circle cx="416.7" cy="492.6" r="3.3" fill="#ffffff" stroke="#000" stroke-width="0.9"/>
<circle cx="414.4" cy="494.9" r="3.3" fill="#ffffff" stroke="#000" stroke-width="0.9"/>
<circle cx="481.5" cy="465.2" r="3.3" fill="#ffffff" stroke="#000" stroke-width="0.9"/>
<circle cx="482.6" cy="466.0" r="3.3" fill="#ffffff" stroke="#000" stroke-width="0.9"/>
<circle cx="482.7" cy="471.4" r="3.3" fill="#ffffff" stroke="#000" stroke-width="0.9"/>
<circle cx="480.9" cy="484.7" r="3.3" fill="#000000" stroke="#000" stroke-width="0.9"/>
<circle cx="479.1" cy="485.0" r="3.3" fill="#ffffff" stroke="#000" stroke-width="0.9"/>
<rect x="73.8" y="63.3" width="221.3" height="165.6" fill="none" stroke="#2b2b2b" stroke-width="1.1"/>
<rect x="303.0" y="63.3" width="221.0" height="165.6" fill="none" stroke="#2b2b2b" stroke-width="1.1"/>
<rect x="66.7" y="337.4" width="224.5" height="165.5" fill="none" stroke="#2b2b2b" stroke-width="1.1"/>
<rect x="299.3" y="337.4" width="224.7" height="165.5" fill="none" stroke="#2b2b2b" stroke-width="1.1"/>
</svg>
</body></html>
